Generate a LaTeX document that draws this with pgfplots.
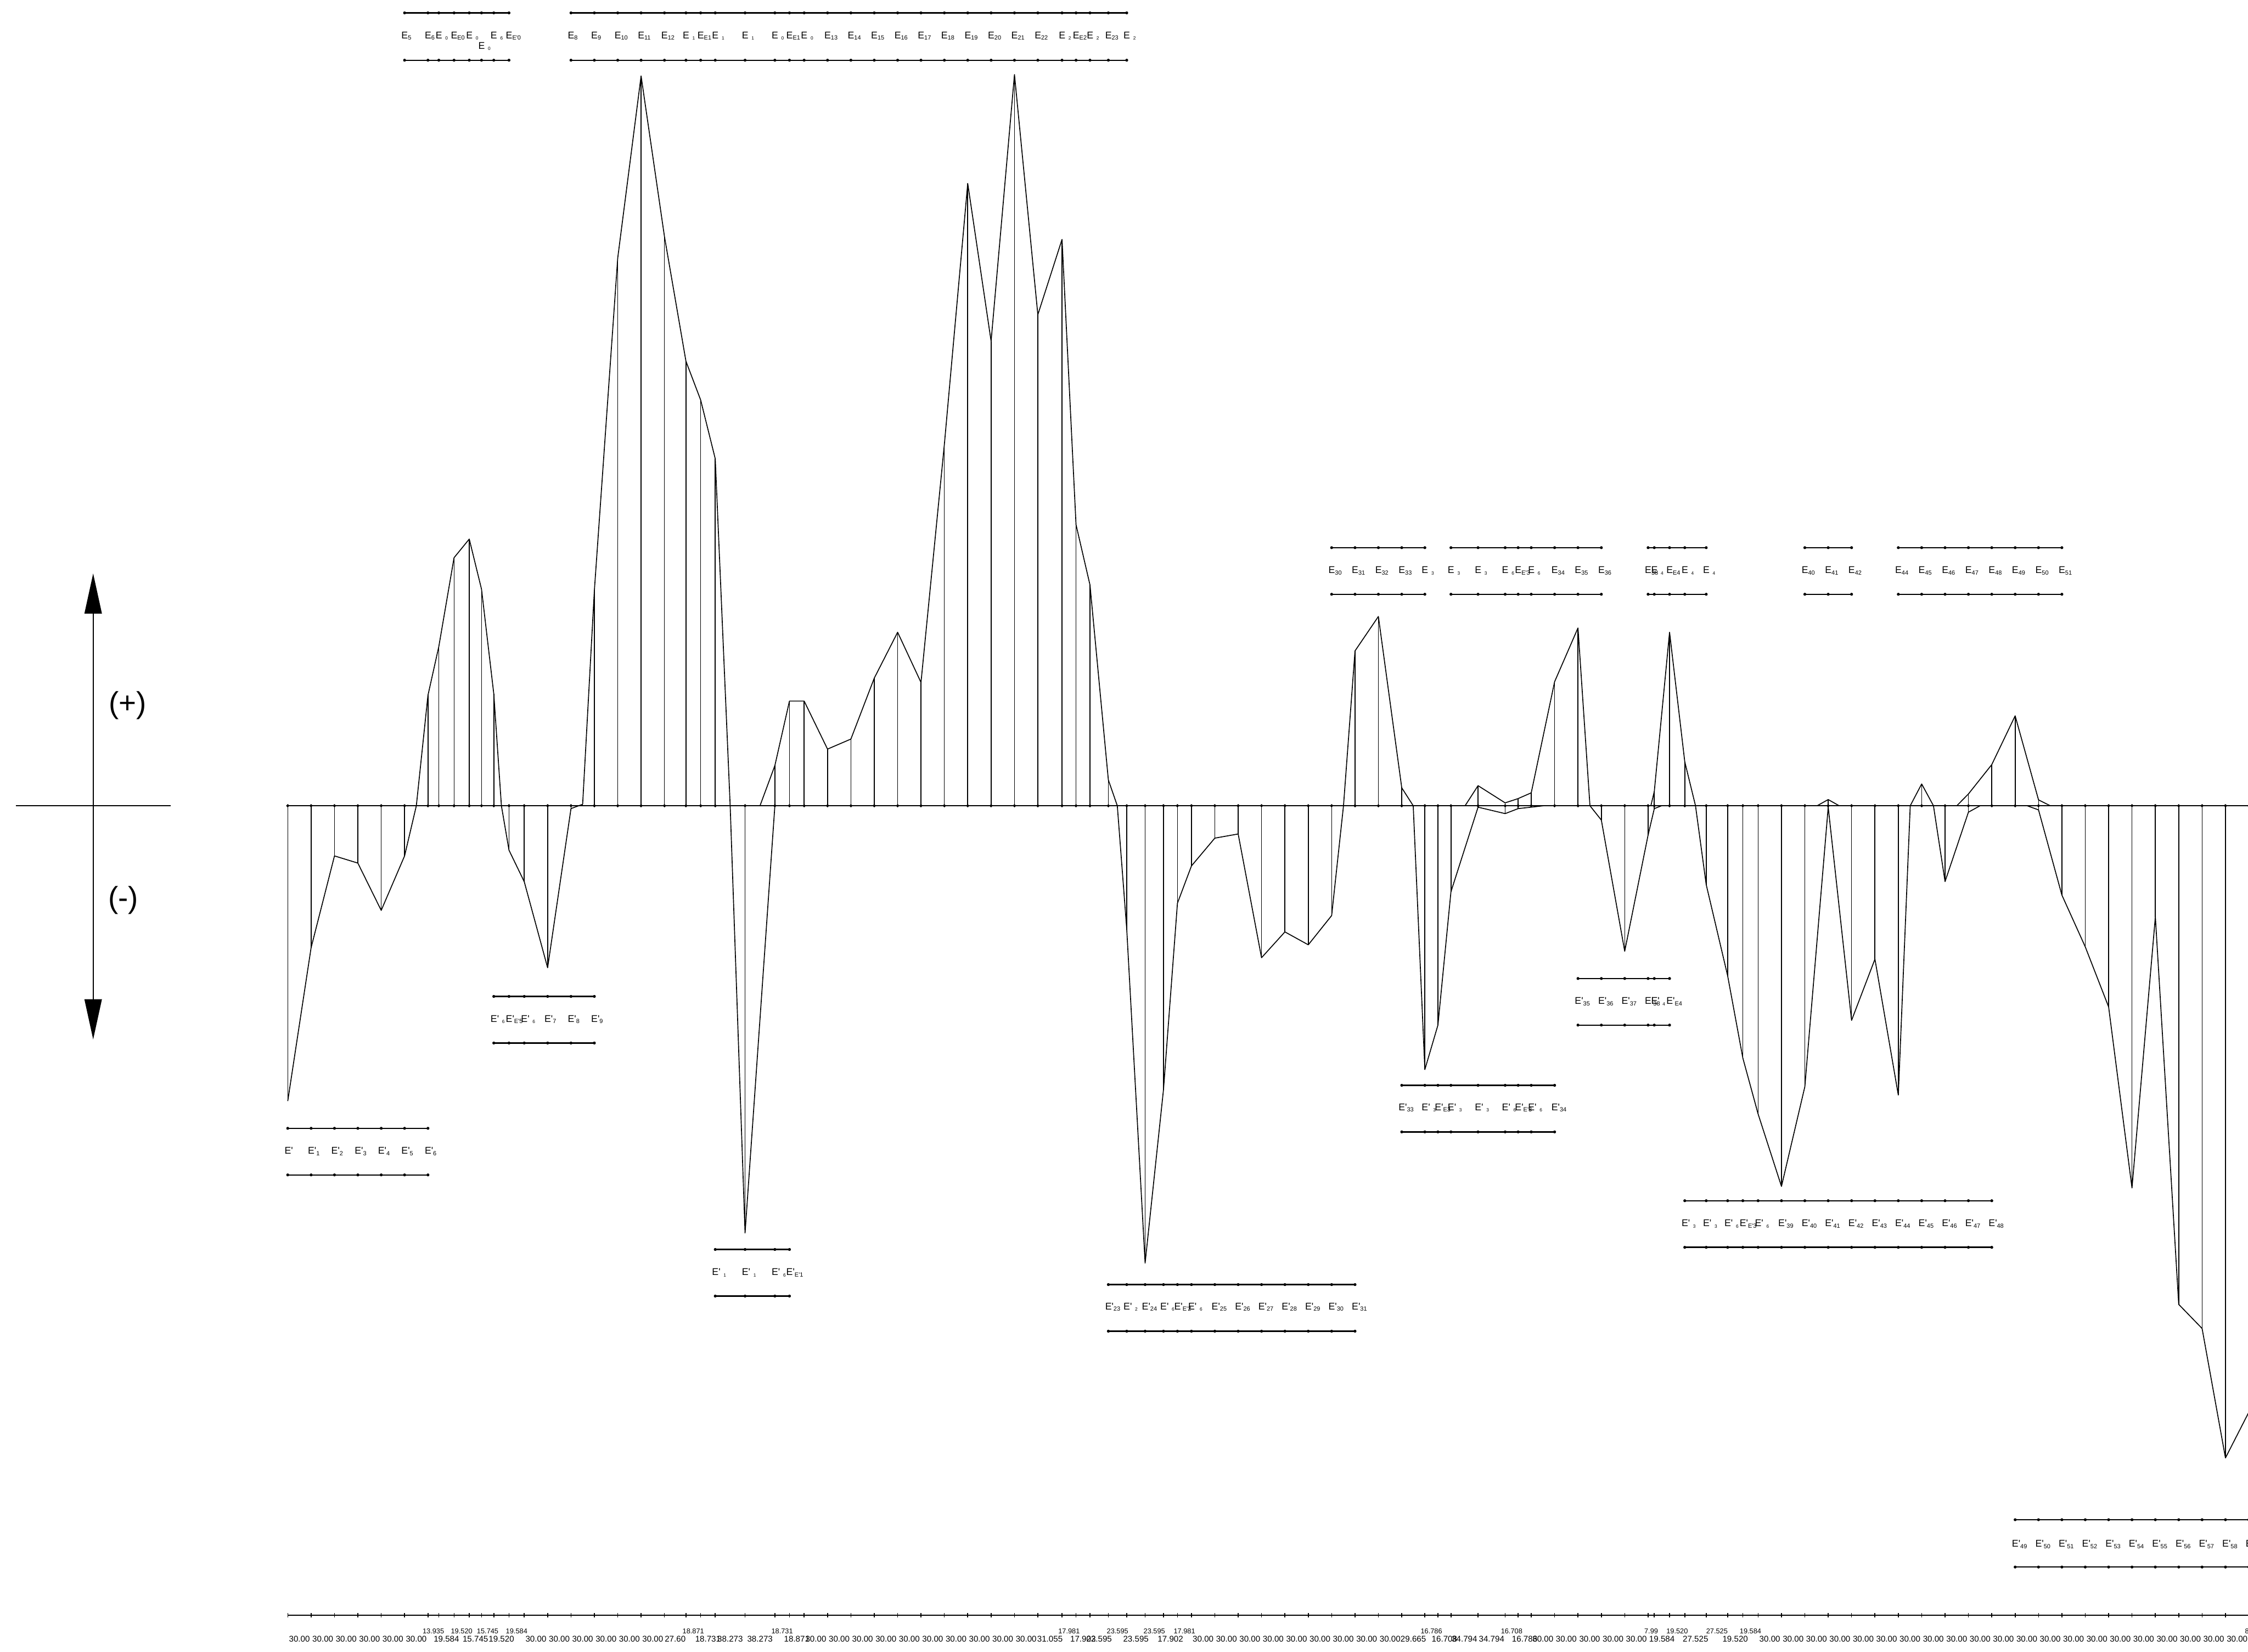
\documentclass[border=0pt]{standalone}
\usepackage{pgfplots}
\usepackage{pgfplotstable}
\usepackage{fontspec}
\setmainfont{Liberation Sans}
\pgfplotsset{compat=1.18}
\usetikzlibrary{arrows.meta}

% label pieces: subscript, detached small subscript, straight prime
\newcommand\sub[1]{\raisebox{-0.5pt}{\fontsize{2.1}{2.5}\selectfont#1}}
\newcommand\gs[1]{\hspace{1.1pt}\raisebox{-0.5pt}{\fontsize{1.6}{2}\selectfont#1}}
\newcommand\pr{\textquotesingle}

\tikzset{lab/.style={font=\fontsize{3.4}{4}\selectfont, anchor=base west,
    inner sep=0pt, xshift=-1.3pt, yshift=-1.22pt}}
\pgfplotsset{brk/.style={black, line width=0.45pt, mark=*, mark size=0.4pt,
    mark options={solid, line width=0.2pt}}}

% station number and position along the member
\pgfplotstableread{
S X
0 0
1 30
2 60
3 90
4 120
5 150
6 180
7 193.935
8 213.519
9 233.039
10 248.784
11 264.529
12 284.049
13 303.633
14 333.633
15 363.633
16 393.633
17 423.633
18 453.633
19 483.633
20 511.233
21 530.104
22 548.835
23 587.108
24 625.381
25 644.112
26 662.983
27 692.983
28 722.983
29 752.983
30 782.983
31 812.983
32 842.983
33 872.983
34 902.983
35 932.983
36 962.983
37 994.038
38 1012.019
39 1029.921
40 1053.516
41 1077.111
42 1100.706
43 1124.301
44 1142.203
45 1160.184
46 1190.184
47 1220.184
48 1250.184
49 1280.184
50 1310.184
51 1340.184
52 1370.184
53 1400.184
54 1430.184
55 1459.849
56 1476.635
57 1493.343
58 1528.137
59 1562.931
60 1579.639
61 1596.425
62 1626.425
63 1656.425
64 1686.425
65 1716.425
66 1746.425
67 1754.415
68 1773.999
69 1793.519
70 1821.044
71 1848.569
72 1868.089
73 1887.673
74 1917.673
75 1947.673
76 1977.673
77 2007.673
78 2037.673
79 2067.673
80 2097.673
81 2127.673
82 2157.673
83 2187.673
84 2217.673
85 2247.673
86 2277.673
87 2307.673
88 2337.673
89 2367.673
90 2397.673
91 2427.673
92 2457.673
93 2487.673
94 2517.673
95 2525.673
}\stations

% positive envelope (segments separated by nan)
\pgfplotstableread{
X V
165.1 0
180 77
193.935 111
213.519 173
233.039 186
248.784 151
264.529 78
274.3 0
nan nan
378.6 1
393.633 150
423.633 382
453.633 509
483.633 397
511.233 310
530.104 283
548.835 242
568.0 0
nan nan
606.3 0
625.381 28
644.112 73
662.983 73
692.983 39.5
722.983 46.5
752.983 89
782.983 121
812.983 86
842.983 252
872.983 434
902.983 324
932.983 510
962.983 342.5
994.038 395
1012.019 196
1029.921 154
1053.516 18
1065.0 0
nan nan
1355.4 0
1370.184 108
1400.184 132
1430.184 12.5
1444.9 0
nan nan
1511.5 0
1528.137 14
1562.931 2
1579.639 5
1596.425 9
1626.425 86.5
1656.425 124
1671.8 0
nan nan
1750.0 0
1754.415 10
1773.999 121
1793.519 30.7
1807.3 0
nan nan
1963.5 0
1977.673 4.3
1991.7 0
nan nan
2083.0 0
2097.673 15.2
2112.8 0
nan nan
2142.8 0
2157.673 8.2
2187.673 28.7
2217.673 62.7
2247.673 4.1
2262.8 0
}\posenv

% negative envelope (segments separated by nan)
\pgfplotstableread{
X V
0 -206
30 -99
60 -35
90 -40
120 -73
150 -35
165.1 0
nan nan
274.3 0
284.049 -31
303.633 -53
333.633 -113
363.633 -2
378.6 1
nan nan
568.0 0
587.108 -298
625.381 0
nan nan
1065.0 0
1077.111 -86
1100.706 -319
1124.301 -198
1142.203 -68
1160.184 -42
1190.184 -22.6
1220.184 -19.7
1250.184 -106
1280.184 -88
1310.184 -97
1340.184 -76.6
1355.4 0
nan nan
1444.9 0
1459.849 -184
1476.635 -153
1493.343 -60
1528.137 -1
1562.931 -5.5
1579.639 -2
1596.425 -1
1612.6 0
nan nan
1671.8 0
1686.425 -10
1716.425 -101.5
1746.425 -20.5
1754.415 -2
1763.9 0
nan nan
1807.3 0
1821.044 -55
1848.569 -118.6
1868.089 -176
1887.673 -215
1917.673 -265.5
1947.673 -196
1977.673 -1
2007.673 -149.7
2037.673 -107
2067.673 -201.8
2083.0 0
nan nan
2112.8 0
2127.673 -52.9
2157.673 -4.5
2172.7 0
nan nan
2233.0 0
2247.673 -2.9
2277.673 -62.3
2307.673 -98.4
2337.673 -140.3
2367.673 -266.6
2397.673 -77.5
2427.673 -347.8
2457.673 -364.6
2487.673 -454.9
2517.673 -423
}\negenv

% spans between stations: start, length, printed value
\pgfplotstableread{
a d lab
0 30 30.00
30 30 30.00
60 30 30.00
90 30 30.00
120 30 30.00
150 30 30.00
193.935 19.584 19.584
233.039 15.745 15.745
264.529 19.520 19.520
303.633 30 30.00
333.633 30 30.00
363.633 30 30.00
393.633 30 30.00
423.633 30 30.00
453.633 30 30.00
483.633 27.60 27.60
530.104 18.731 18.731
548.835 38.273 38.273
587.108 38.273 38.273
644.112 18.871 18.871
662.983 30 30.00
692.983 30 30.00
722.983 30 30.00
752.983 30 30.00
782.983 30 30.00
812.983 30 30.00
842.983 30 30.00
872.983 30 30.00
902.983 30 30.00
932.983 30 30.00
962.983 31.055 31.055
1012.019 17.902 17.902
1029.921 23.595 23.595
1077.111 23.595 23.595
1124.301 17.902 17.902
1160.184 30 30.00
1190.184 30 30.00
1220.184 30 30.00
1250.184 30 30.00
1280.184 30 30.00
1310.184 30 30.00
1340.184 30 30.00
1370.184 30 30.00
1400.184 30 30.00
1430.184 29.665 29.665
1476.635 16.708 16.708
1493.343 34.794 34.794
1528.137 34.794 34.794
1579.639 16.786 16.786
1596.425 30 30.00
1626.425 30 30.00
1656.425 30 30.00
1686.425 30 30.00
1716.425 30 30.00
1754.415 19.584 19.584
1793.519 27.525 27.525
1848.569 19.520 19.520
1887.673 30 30.00
1917.673 30 30.00
1947.673 30 30.00
1977.673 30 30.00
2007.673 30 30.00
2037.673 30 30.00
2067.673 30 30.00
2097.673 30 30.00
2127.673 30 30.00
2157.673 30 30.00
2187.673 30 30.00
2217.673 30 30.00
2247.673 30 30.00
2277.673 30 30.00
2307.673 30 30.00
2337.673 30 30.00
2367.673 30 30.00
2397.673 30 30.00
2427.673 30 30.00
2457.673 30 30.00
2487.673 30 30.00
}\lowrow

\pgfplotstableread{
a d lab
180 13.935 13.935
213.519 19.520 19.520
248.784 15.745 15.745
284.049 19.584 19.584
511.233 18.871 18.871
625.381 18.731 18.731
994.038 17.981 17.981
1053.516 23.595 23.595
1100.706 23.595 23.595
1142.203 17.981 17.981
1459.849 16.786 16.786
1562.931 16.708 16.708
1746.425 7.99 7.99
1773.999 19.520 19.520
1821.044 27.525 27.525
1868.089 19.584 19.584
2517.673 8.00 8.00
}\uprow

% pair of dotted bracket lines over a group of stations (first and last station number)
\newcommand\brk[4]{%
  \addplot[brk, restrict expr to domain={\thisrow{S}}{#3:#4}] table[x=X, y expr=#1] {\stations};
  \addplot[brk, restrict expr to domain={\thisrow{S}}{#3:#4}] table[x=X, y expr=#2] {\stations};}
\newcommand\lb[3]{\node[lab] at (axis cs:#1,#2) {#3};}

\begin{document}
\begin{tikzpicture}
\useasboundingbox (0,0) rectangle (784pt,576pt);
\clip (0,0) rectangle (784pt,576pt);
\begin{axis}[
  at={(0,0)}, anchor=south west,
  scale only axis, width=784pt, height=576pt,
  xmin=-369.41, xmax=2516.65, ymin=-590, ymax=562,
  hide axis, clip=false,
  unbounded coords=jump,
]
% base line with station dots
\addplot[black, line width=0.32pt] coordinates {(0,0) (2540,0)};
\addplot[black, only marks, mark=*, mark size=0.3pt] table[x=X, y expr=0] {\stations};

% ordinates
\addplot[black, ycomb, line width=0.3pt] table[x=X, y=V] {\posenv};
\addplot[black, ycomb, line width=0.3pt] table[x=X, y=V] {\negenv};

% envelopes
\addplot[black, line width=0.32pt, line join=round] table[x=X, y=V] {\posenv};
\addplot[black, line width=0.32pt, line join=round] table[x=X, y=V] {\negenv};

% sign convention
\draw[black, line width=0.35pt] (axis cs:-349.2,0) -- (axis cs:-150.4,0);
\draw[black, line width=0.45pt, {Triangle[length=14pt,width=6pt]}-{Triangle[length=14pt,width=6pt]}]
  (axis cs:-249.8,-163) -- (axis cs:-249.8,162);
\node[font=\fontsize{10.5}{12}\selectfont, inner sep=0pt] at (axis cs:-205.6,70) {(+)};
\node[font=\fontsize{10.5}{12}\selectfont, inner sep=0pt] at (axis cs:-211.1,-66) {(-)};

% span scale
\addplot[black, line width=0.45pt] coordinates {(0,-564.7) (2540,-564.7)};
\addplot[black, only marks, mark=|, mark size=0.75pt, mark options={line width=0.3pt}]
  table[x=X, y expr=-564.7] {\stations};
\addplot[draw=none, nodes near coords, point meta=explicit symbolic,
  every node near coord/.style={anchor=center, inner sep=0pt,
    font=\fontsize{2.9}{3.2}\selectfont}]
  table[x expr=\thisrow{a}+0.5*\thisrow{d}, y expr=-581.3, meta=lab] {\lowrow};
\addplot[draw=none, nodes near coords, point meta=explicit symbolic,
  every node near coord/.style={anchor=center, inner sep=0pt,
    font=\fontsize{2.45}{2.8}\selectfont}]
  table[x expr=\thisrow{a}+0.5*\thisrow{d}, y expr=-575.9, meta=lab] {\uprow};

% element groups above the base line
\brk{553}{520}{5}{12}
\brk{553}{520}{15}{41}
\brk{180}{147.5}{51}{55}
\brk{180}{147.5}{57}{64}
\brk{180}{147.5}{66}{70}
\brk{180}{147.5}{75}{77}
\brk{180}{147.5}{79}{86}

% element groups below the base line
\brk{-225}{-257.5}{0}{6}
\brk{-133}{-165.5}{11}{16}
\brk{-309.5}{-342}{22}{25}
\brk{-334}{-366.5}{40}{52}
\brk{-195}{-227.5}{54}{62}
\brk{-120.5}{-153}{63}{68}
\brk{-275.5}{-308}{69}{83}
\brk{-498}{-531}{84}{95}

% element names, upper groups
\lb{150}{537.6}{E\sub{5}}
\lb{180}{537.6}{E\sub{6}}
\lb{193.935}{537.6}{E\gs{0}}
\lb{213.519}{537.6}{E\sub{E0}}
\lb{233.039}{537.6}{E\gs{0}}
\lb{248.784}{530.3}{E\gs{0}}
\lb{264.529}{537.6}{E\gs{6}}
\lb{284.049}{537.6}{E\sub{E\pr0}}

\lb{363.633}{537.6}{E\sub{8}}
\lb{393.633}{537.6}{E\sub{9}}
\lb{423.633}{537.6}{E\sub{10}}
\lb{453.633}{537.6}{E\sub{11}}
\lb{483.633}{537.6}{E\sub{12}}
\lb{511.233}{537.6}{E\gs{1}}
\lb{530.104}{537.6}{E\sub{E1}}
\lb{548.835}{537.6}{E\gs{1}}
\lb{587.108}{537.6}{E\gs{1}}
\lb{625.381}{537.6}{E\gs{0}}
\lb{644.112}{537.6}{E\sub{E1}}
\lb{662.983}{537.6}{E\gs{0}}
\lb{692.983}{537.6}{E\sub{13}}
\lb{722.983}{537.6}{E\sub{14}}
\lb{752.983}{537.6}{E\sub{15}}
\lb{782.983}{537.6}{E\sub{16}}
\lb{812.983}{537.6}{E\sub{17}}
\lb{842.983}{537.6}{E\sub{18}}
\lb{872.983}{537.6}{E\sub{19}}
\lb{902.983}{537.6}{E\sub{20}}
\lb{932.983}{537.6}{E\sub{21}}
\lb{962.983}{537.6}{E\sub{22}}
\lb{994.038}{537.6}{E\gs{2}}
\lb{1012.019}{537.6}{E\sub{E2}}
\lb{1029.921}{537.6}{E\gs{2}}
\lb{1053.516}{537.6}{E\sub{23}}
\lb{1077.111}{537.6}{E\gs{2}}

\lb{1340.184}{164.5}{E\sub{30}}
\lb{1370.184}{164.5}{E\sub{31}}
\lb{1400.184}{164.5}{E\sub{32}}
\lb{1430.184}{164.5}{E\sub{33}}
\lb{1459.849}{164.5}{E\gs{3}}
\lb{1493.343}{164.5}{E\gs{3}}
\lb{1528.137}{164.5}{E\gs{3}}
\lb{1562.931}{164.5}{E\gs{6}}
\lb{1579.639}{164.5}{E\sub{E\pr3}}
\lb{1596.425}{164.5}{E\gs{6}}
\lb{1626.425}{164.5}{E\sub{34}}
\lb{1656.425}{164.5}{E\sub{35}}
\lb{1686.425}{164.5}{E\sub{36}}
\lb{1746.425}{164.5}{E\sub{38}}
\lb{1754.415}{164.5}{E\gs{4}}
\lb{1773.999}{164.5}{E\sub{E4}}
\lb{1793.519}{164.5}{E\gs{4}}
\lb{1821.044}{164.5}{E\gs{4}}
\lb{1947.673}{164.5}{E\sub{40}}
\lb{1977.673}{164.5}{E\sub{41}}
\lb{2007.673}{164.5}{E\sub{42}}
\lb{2067.673}{164.5}{E\sub{44}}
\lb{2097.673}{164.5}{E\sub{45}}
\lb{2127.673}{164.5}{E\sub{46}}
\lb{2157.673}{164.5}{E\sub{47}}
\lb{2187.673}{164.5}{E\sub{48}}
\lb{2217.673}{164.5}{E\sub{49}}
\lb{2247.673}{164.5}{E\sub{50}}
\lb{2277.673}{164.5}{E\sub{51}}

% element names, lower groups
\lb{0}{-240.5}{E\pr}
\lb{30}{-240.5}{E\pr\sub{1}}
\lb{60}{-240.5}{E\pr\sub{2}}
\lb{90}{-240.5}{E\pr\sub{3}}
\lb{120}{-240.5}{E\pr\sub{4}}
\lb{150}{-240.5}{E\pr\sub{5}}
\lb{180}{-240.5}{E\pr\sub{6}}

\lb{264.529}{-148.5}{E\pr\gs{6}}
\lb{284.049}{-148.5}{E\pr\sub{E\pr5}}
\lb{303.633}{-148.5}{E\pr\gs{6}}
\lb{333.633}{-148.5}{E\pr\sub{7}}
\lb{363.633}{-148.5}{E\pr\sub{8}}
\lb{393.633}{-148.5}{E\pr\sub{9}}

\lb{548.835}{-325}{E\pr\gs{1}}
\lb{587.108}{-325}{E\pr\gs{1}}
\lb{625.381}{-325}{E\pr\gs{6}}
\lb{644.112}{-325}{E\pr\sub{E\pr1}}

\lb{1053.516}{-349}{E\pr\sub{23}}
\lb{1077.111}{-349}{E\pr\gs{2}}
\lb{1100.706}{-349}{E\pr\sub{24}}
\lb{1124.301}{-349}{E\pr\gs{6}}
\lb{1142.203}{-349}{E\pr\sub{E\pr2}}
\lb{1160.184}{-349}{E\pr\gs{6}}
\lb{1190.184}{-349}{E\pr\sub{25}}
\lb{1220.184}{-349}{E\pr\sub{26}}
\lb{1250.184}{-349}{E\pr\sub{27}}
\lb{1280.184}{-349}{E\pr\sub{28}}
\lb{1310.184}{-349}{E\pr\sub{29}}
\lb{1340.184}{-349}{E\pr\sub{30}}
\lb{1370.184}{-349}{E\pr\sub{31}}

\lb{1430.184}{-210}{E\pr\sub{33}}
\lb{1459.849}{-210}{E\pr\gs{3}}
\lb{1476.635}{-210}{E\pr\sub{E3}}
\lb{1493.343}{-210}{E\pr\gs{3}}
\lb{1528.137}{-210}{E\pr\gs{3}}
\lb{1562.931}{-210}{E\pr\gs{6}}
\lb{1579.639}{-210}{E\pr\sub{E\pr3}}
\lb{1596.425}{-210}{E\pr\gs{6}}
\lb{1626.425}{-210}{E\pr\sub{34}}

\lb{1656.425}{-136}{E\pr\sub{35}}
\lb{1686.425}{-136}{E\pr\sub{36}}
\lb{1716.425}{-136}{E\pr\sub{37}}
\lb{1746.425}{-136}{E\pr\sub{38}}
\lb{1754.415}{-136}{E\pr\gs{4}}
\lb{1773.999}{-136}{E\pr\sub{E4}}

\lb{1793.519}{-291}{E\pr\gs{3}}
\lb{1821.044}{-291}{E\pr\gs{3}}
\lb{1848.569}{-291}{E\pr\gs{6}}
\lb{1868.089}{-291}{E\pr\sub{E\pr3}}
\lb{1887.673}{-291}{E\pr\gs{6}}
\lb{1917.673}{-291}{E\pr\sub{39}}
\lb{1947.673}{-291}{E\pr\sub{40}}
\lb{1977.673}{-291}{E\pr\sub{41}}
\lb{2007.673}{-291}{E\pr\sub{42}}
\lb{2037.673}{-291}{E\pr\sub{43}}
\lb{2067.673}{-291}{E\pr\sub{44}}
\lb{2097.673}{-291}{E\pr\sub{45}}
\lb{2127.673}{-291}{E\pr\sub{46}}
\lb{2157.673}{-291}{E\pr\sub{47}}
\lb{2187.673}{-291}{E\pr\sub{48}}

\lb{2217.673}{-514.5}{E\pr\sub{49}}
\lb{2247.673}{-514.5}{E\pr\sub{50}}
\lb{2277.673}{-514.5}{E\pr\sub{51}}
\lb{2307.673}{-514.5}{E\pr\sub{52}}
\lb{2337.673}{-514.5}{E\pr\sub{53}}
\lb{2367.673}{-514.5}{E\pr\sub{54}}
\lb{2397.673}{-514.5}{E\pr\sub{55}}
\lb{2427.673}{-514.5}{E\pr\sub{56}}
\lb{2457.673}{-514.5}{E\pr\sub{57}}
\lb{2487.673}{-514.5}{E\pr\sub{58}}
\lb{2517.673}{-514.5}{E\pr\sub{59}}
\end{axis}
\end{tikzpicture}
\end{document}
